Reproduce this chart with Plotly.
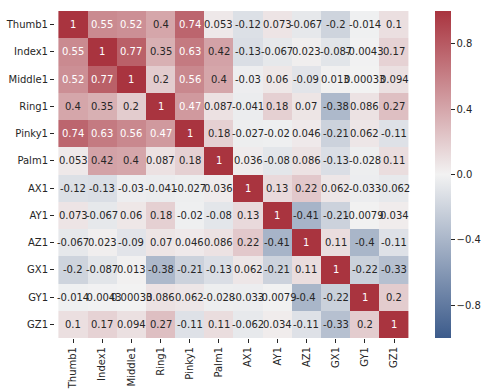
import plotly.graph_objects as go

labels = ["Thumb1", "Index1", "Middle1", "Ring1", "Pinky1", "Palm1",
          "AX1", "AY1", "AZ1", "GX1", "GY1", "GZ1"]

thumb1 = [1, 0.55, 0.52, 0.4, 0.74, 0.053, -0.12, 0.073, -0.067, -0.2, -0.014, 0.1]
index1 = [0.55, 1, 0.77, 0.35, 0.63, 0.42, -0.13, -0.067, 0.023, -0.087, -0.0043, 0.17]
middle1 = [0.52, 0.77, 1, 0.2, 0.56, 0.4, -0.03, 0.06, -0.09, 0.013, 0.00033, 0.094]
ring1 = [0.4, 0.35, 0.2, 1, 0.47, 0.087, -0.041, 0.18, 0.07, -0.38, 0.086, 0.27]
pinky1 = [0.74, 0.63, 0.56, 0.47, 1, 0.18, -0.027, -0.02, 0.046, -0.21, 0.062, -0.11]
palm1 = [0.053, 0.42, 0.4, 0.087, 0.18, 1, 0.036, -0.08, 0.086, -0.13, -0.028, 0.11]
ax1 = [-0.12, -0.13, -0.03, -0.041, -0.027, 0.036, 1, 0.13, 0.22, 0.062, -0.033, -0.062]
ay1 = [0.073, -0.067, 0.06, 0.18, -0.02, -0.08, 0.13, 1, -0.41, -0.21, -0.0079, 0.034]
az1 = [-0.067, 0.023, -0.09, 0.07, 0.046, 0.086, 0.22, -0.41, 1, 0.11, -0.4, -0.11]
gx1 = [-0.2, -0.087, 0.013, -0.38, -0.21, -0.13, 0.062, -0.21, 0.11, 1, -0.22, -0.33]
gy1 = [-0.014, -0.0043, 0.00033, 0.086, 0.062, -0.028, -0.033, -0.0079, -0.4, -0.22, 1, 0.2]
gz1 = [0.1, 0.17, 0.094, 0.27, -0.11, 0.11, -0.062, 0.034, -0.11, -0.33, 0.2, 1]

z = [thumb1, index1, middle1, ring1, pinky1, palm1, ax1, ay1, az1, gx1, gy1, gz1]

neg = (60, 91, 139)
mid = (242, 242, 242)
pos = (169, 52, 63)


def rgb(c):
    return "rgb(%d,%d,%d)" % c


def color_at(v):
    if v >= 0:
        a, b, t = mid, pos, v
    else:
        a, b, t = mid, neg, -v
    return tuple(a[i] + t * (b[i] - a[i]) for i in range(3))


def lum(c):
    def ch(x):
        x = x / 255.0
        return x / 12.92 if x <= 0.03928 else ((x + 0.055) / 1.055) ** 2.4
    r, g, b = (ch(x) for x in c)
    return 0.2126 * r + 0.7152 * g + 0.0722 * b


L, R, T, B = 55, 77, 11, 54
pw = 489 - L - R

fig = go.Figure(go.Heatmap(
    z=z, x=labels, y=labels, zmin=-1, zmax=1,
    colorscale=[[0, rgb(neg)], [0.5, rgb(mid)], [1, rgb(pos)]],
    xgap=0, ygap=0,
    colorbar=dict(
        x=(435 - L) / pw, xanchor="left", xref="paper",
        y=0.5, yanchor="middle", len=1.0, lenmode="fraction",
        xpad=0, ypad=0,
        thickness=16, thicknessmode="pixels", outlinewidth=0,
        tickvals=[-0.8, -0.4, 0.0, 0.4, 0.8],
        ticktext=["\u22120.8", "\u22120.4", "0.0", "0.4", "0.8"],
        ticks="outside", ticklen=4, tickcolor="#262626",
        tickfont=dict(family="DejaVu Sans", size=10, color="#262626"),
    ),
))

anns = []
for i, row in enumerate(z):
    for j, v in enumerate(row):
        c = color_at(v)
        tc = "white" if lum(c) < 0.408 else "#262626"
        anns.append(dict(x=labels[j], y=labels[i], text="{:.2g}".format(v),
                         showarrow=False,
                         font=dict(family="DejaVu Sans", size=10, color=tc)))

fig.update_layout(
    width=489, height=392,
    margin=dict(l=L, r=R, t=T, b=B, pad=0, autoexpand=False),
    paper_bgcolor="white", plot_bgcolor="white",
    annotations=anns,
    font=dict(family="DejaVu Sans", size=10, color="#262626"),
)
fig.update_xaxes(tickangle=-90, ticks="outside", ticklen=4, tickcolor="#262626",
                 showgrid=False, zeroline=False, automargin=False,
                 tickfont=dict(family="DejaVu Sans", size=10, color="#262626"))
fig.update_yaxes(autorange="reversed", ticks="outside", ticklen=4, tickcolor="#262626",
                 showgrid=False, zeroline=False, automargin=False,
                 tickfont=dict(family="DejaVu Sans", size=10, color="#262626"))

fig.write_html("out.html", config={"displayModeBar": False},
               post_script="document.body.style.margin='0';document.body.style.padding='0';")
